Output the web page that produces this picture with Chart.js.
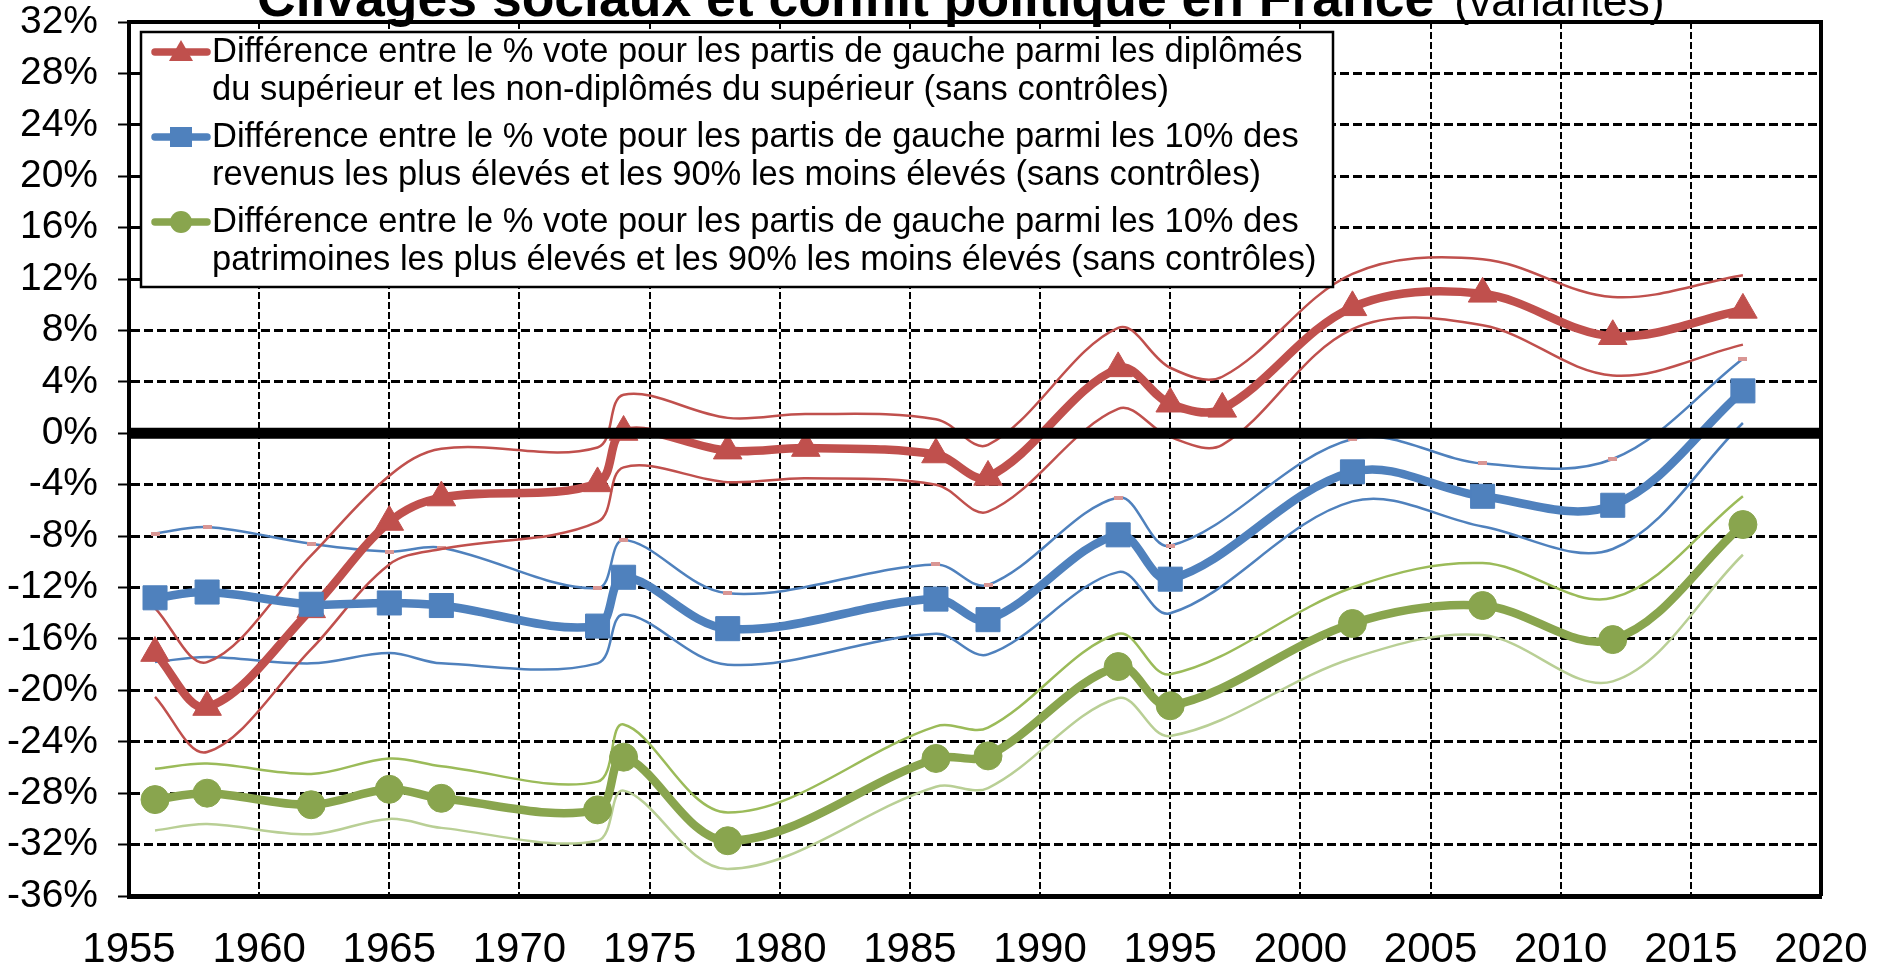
<!DOCTYPE html>
<html>
<head>
<meta charset="utf-8">
<title>Clivages sociaux et conflit politique en France</title>
<script src="https://cdn.jsdelivr.net/npm/chart.js@4.4.1/dist/chart.umd.min.js"></script>
<style>
html, body { margin: 0; padding: 0; background: #fff; }
</style>
</head>
<body>
<canvas id="myChart" width="1886" height="965"></canvas>
<script>
var titleBold = 'Clivages sociaux et conflit politique en France';
var titleLight = '(variantes)';

// election years (the diploma series has 1981 and 1997 as well)
var yearsDiplome = [1956, 1958, 1962, 1965, 1967, 1973, 1974, 1978, 1981, 1986, 1988, 1993, 1995, 1997, 2002, 2007, 2012, 2017];
var yearsAutres = [1956, 1958, 1962, 1965, 1967, 1973, 1974, 1978, 1986, 1988, 1993, 1995, 2002, 2007, 2012, 2017];

// diplomés du supérieur vs non-diplômés (main line + bounds)
var diplome = [-17.1, -21.3, -13.7, -6.9, -5.0, -3.9, 0.1, -1.35, -1.15, -1.65, -3.4, 5.05, 2.3, 1.9, 9.8, 10.85, 7.55, 9.6];
var diplomeHaut = [-13.6, -17.8, -9.5, -3.3, -1.2, -1.1, 3.0, 1.2, 1.5, 1.1, -0.9, 8.2, 5.1, 4.4, 12.4, 13.55, 10.6, 12.3];
var diplomeBas = [-20.5, -24.8, -16.8, -10.2, -9.0, -6.9, -2.65, -3.8, -3.5, -4.0, -6.1, 1.9, -0.3, -0.9, 8.1, 8.4, 4.5, 6.9];

// top 10% revenus vs 90%
var revenu = [-12.8, -12.35, -13.3, -13.2, -13.4, -15.0, -11.2, -15.2, -12.9, -14.5, -7.9, -11.35, -3.0, -4.9, -5.6, 3.3];
var revenuHaut = [-7.8, -7.3, -8.6, -9.2, -8.9, -12.05, -8.3, -12.45, -10.2, -11.8, -5.0, -8.75, -0.45, -2.35, -2.0, 5.8];
var revenuBas = [-17.8, -17.4, -17.9, -17.1, -17.9, -17.9, -14.1, -18.0, -15.6, -17.2, -10.8, -14.0, -5.3, -7.25, -9.0, 0.8];

// top 10% patrimoines vs 90%
var patrimoine = [-28.5, -28.0, -28.9, -27.7, -28.4, -29.3, -25.2, -31.7, -25.3, -25.1, -18.15, -21.2, -14.8, -13.4, -16.05, -7.1];
var patrimoineHaut = [-26.1, -25.7, -26.5, -25.3, -25.9, -27.1, -22.65, -29.5, -22.8, -22.9, -15.6, -18.75, -12.0, -10.1, -12.8, -4.9];
var patrimoineBas = [-30.9, -30.4, -31.2, -30.0, -30.7, -31.7, -27.8, -33.9, -27.5, -27.6, -20.6, -23.55, -17.5, -15.7, -19.3, -9.45];

var legendLines = [
    ['Différence entre le % vote pour les partis de gauche parmi les diplômés', 'du supérieur et les non-diplômés du supérieur (sans contrôles)'],
    ['Différence entre le % vote pour les partis de gauche parmi les 10% des', 'revenus les plus élevés et les 90% les moins élevés (sans contrôles)'],
    ['Différence entre le % vote pour les partis de gauche parmi les 10% des', 'patrimoines les plus élevés et les 90% les moins élevés (sans contrôles)']
];
var legendColors = ['#c0504d', '#4f81bd', '#89a54e'];
var legendShapes = ['triangle', 'rect', 'circle'];

var xMin = 1955, xMax = 2020, xStep = 5;
var yMin = -36, yMax = 32, yStep = 4;
var zeroLine = [0, 0];

var FONT = '"Liberation Sans", Arial, sans-serif';

function points(years, values) {
    return values.map(function(v, i) {
        return {x: years[i], y: v};
    });
}

// small pink dashes sitting on the upper revenu bound
var pinkMark = document.createElement('canvas');
pinkMark.width = 9;
pinkMark.height = 4;
var pctx = pinkMark.getContext('2d');
pctx.fillStyle = '#d99694';
pctx.fillRect(0, 0, 9, 4);

function mainLine(label, years, values, color, shape, radius, order) {
    return {
        label: label,
        data: points(years, values),
        borderColor: color,
        backgroundColor: color,
        borderWidth: 8.5,
        pointStyle: shape,
        pointRadius: radius,
        pointBorderWidth: 1,
        pointBorderColor: color,
        pointBackgroundColor: color,
        tension: 0.35,
        borderJoinStyle: 'round',
        fill: false,
        order: order
    };
}

function thinLine(years, values, color, order) {
    return {
        label: '',
        data: points(years, values),
        borderColor: color,
        borderWidth: 2.5,
        pointRadius: 0,
        tension: 0.35,
        fill: false,
        order: order
    };
}

var revenuHautSet = thinLine(yearsAutres, revenuHaut, '#4f81bd', 6);
revenuHautSet.pointStyle = pinkMark;
revenuHautSet.pointRadius = 3;

var datasets = [
    {label: '', data: points([xMin, xMax], zeroLine), borderColor: '#000', borderWidth: 11, pointRadius: 0, tension: 0, order: 0},
    mainLine('diplome', yearsDiplome, diplome, '#c0504d', 'triangle', 16.5, 2),
    mainLine('revenu', yearsAutres, revenu, '#4f81bd', 'rect', 17, 1),
    mainLine('patrimoine', yearsAutres, patrimoine, '#89a54e', 'circle', 14, 3),
    thinLine(yearsDiplome, diplomeHaut, '#c0504d', 5),
    thinLine(yearsDiplome, diplomeBas, '#c0504d', 5),
    revenuHautSet,
    thinLine(yearsAutres, revenuBas, '#4f81bd', 6),
    thinLine(yearsAutres, patrimoineHaut, '#9bbb59', 7),
    thinLine(yearsAutres, patrimoineBas, '#b9cf95', 7)
];

//top and right border of the plot
var frame = {
    id: 'frame',
    beforeDatasetsDraw: function(chart) {
        var a = chart.chartArea, ctx = chart.ctx;
        ctx.save();
        ctx.strokeStyle = '#000';
        ctx.lineWidth = 4;
        ctx.beginPath();
        ctx.moveTo(a.left, a.top);
        ctx.lineTo(a.right, a.top);
        ctx.lineTo(a.right, a.bottom);
        ctx.stroke();
        ctx.restore();
    }
};

//title cut off at the top, bold part then light part
var bigTitle = {
    id: 'bigTitle',
    afterDraw: function(chart) {
        var ctx = chart.ctx;
        ctx.save();
        ctx.fillStyle = '#000';
        ctx.textBaseline = 'alphabetic';
        ctx.font = 'bold 53.5px ' + FONT;
        var x = 257;
        ctx.fillText(titleBold, x, 16);
        x += ctx.measureText(titleBold).width + 20;
        ctx.font = '44.5px ' + FONT;
        ctx.fillText(titleLight, x, 16);
        ctx.restore();
    }
};

function drawShape(ctx, shape, x, y, color) {
    ctx.fillStyle = color;
    ctx.beginPath();
    if (shape == 'triangle') {
        ctx.moveTo(x, y - 12);
        ctx.lineTo(x + 12, y + 9);
        ctx.lineTo(x - 12, y + 9);
        ctx.closePath();
    } else if (shape == 'rect') {
        ctx.rect(x - 11, y - 10, 22, 20);
    } else {
        ctx.arc(x, y, 11, 0, Math.PI * 2);
    }
    ctx.fill();
}

//legend box inside the plot, two lines per entry
var legendBox = {
    id: 'legendBox',
    afterDatasetsDraw: function(chart) {
        var ctx = chart.ctx;
        var left = chart.chartArea.left + 12;
        var top = chart.chartArea.top + 10;
        ctx.save();
        ctx.fillStyle = '#fff';
        ctx.fillRect(left, top, 1192, 255);
        ctx.strokeStyle = '#000';
        ctx.lineWidth = 2.5;
        ctx.strokeRect(left, top, 1192, 255);
        ctx.font = '34.5px ' + FONT;
        ctx.textBaseline = 'middle';
        for (var i = 0; i < legendLines.length; i++) {
            var y = top + 20 + i * 85;
            ctx.strokeStyle = legendColors[i];
            ctx.lineWidth = 7.5;
            ctx.lineCap = 'round';
            ctx.beginPath();
            ctx.moveTo(left + 14, y);
            ctx.lineTo(left + 66, y);
            ctx.stroke();
            drawShape(ctx, legendShapes[i], left + 40, y, legendColors[i]);
            ctx.fillStyle = '#000';
            ctx.fillText(legendLines[i][0], left + 71, y);
            ctx.fillText(legendLines[i][1], left + 71, y + 38);
        }
        ctx.restore();
    }
};

// no extra room for the end labels, the plot edges are fixed by the padding
function noLabelPadding(scale) {
    scale.paddingTop = 0;
    scale.paddingBottom = 0;
    scale.paddingLeft = 0;
    scale.paddingRight = 0;
}

var ctx = document.getElementById('myChart').getContext('2d');
var option = {
    responsive: false,
    maintainAspectRatio: false,
    animation: false,
    events: [],
    layout: {padding: {left: 0, right: 65, top: 22, bottom: 0}},
    plugins: {
        legend: {display: false},
        tooltip: {enabled: false},
        title: {display: false}
    },
    scales: {
        x: {
            type: 'linear',
            min: xMin,
            max: xMax,
            ticks: {
                stepSize: xStep,
                color: '#000',
                padding: 29,
                font: {size: 42, family: FONT},
                callback: function(v) { return String(v); }
            },
            grid: {color: '#000', lineWidth: 2, drawTicks: false},
            border: {display: true, color: '#000', width: 5, dash: [7, 3]},
            afterFit: function(scale) {
                scale.height = 69;
                noLabelPadding(scale);
            }
        },
        y: {
            min: yMin,
            max: yMax,
            ticks: {
                stepSize: yStep,
                color: '#000',
                padding: 20,
                font: {size: 39, family: FONT},
                callback: function(v) { return v + '%'; }
            },
            grid: {color: '#000', lineWidth: 3, tickLength: 11, tickColor: '#000', tickWidth: 2},
            border: {display: true, color: '#000', width: 4, dash: [9, 4]},
            afterFit: function(scale) {
                scale.width = 129;
                noLabelPadding(scale);
            }
        }
    }
};
var myChart = new Chart(ctx, {
    type: 'line',
    data: {datasets: datasets},
    options: option,
    plugins: [frame, legendBox, bigTitle]
});
</script>
</body>
</html>
